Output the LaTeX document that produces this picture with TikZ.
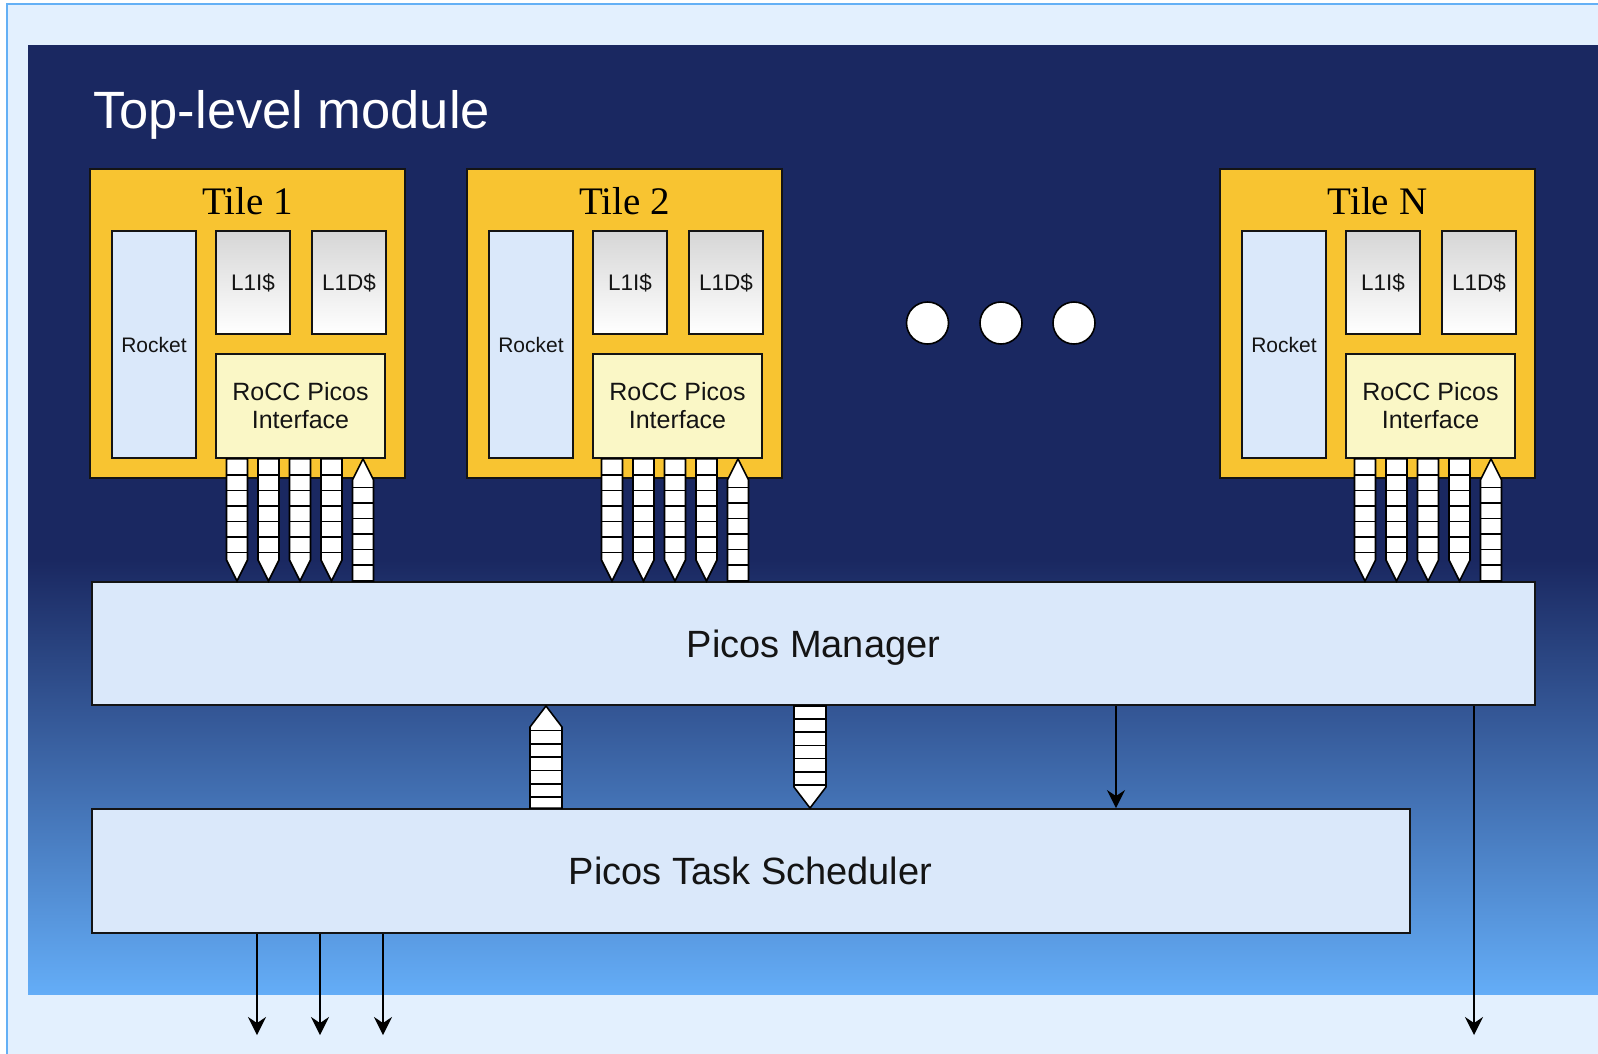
\documentclass[tikz,border=0pt]{standalone}
\usepackage{fontspec}
\setmainfont{Liberation Sans}
\newfontfamily\tilefont{Liberation Serif}
\usetikzlibrary{arrows.meta,calc}

\definecolor{pagebg}{HTML}{E3F0FE}
\definecolor{pageedge}{HTML}{64B0F5}
\definecolor{navy}{HTML}{1A2861}
\definecolor{skyend}{HTML}{64ADF7}
\definecolor{tilegold}{HTML}{F8C431}
\definecolor{paleblue}{HTML}{DAE8FA}
\definecolor{paleyellow}{HTML}{FAF7C6}
\definecolor{cachetop}{HTML}{D6D6D6}
\definecolor{ink}{HTML}{141414}

% striped bus arrow pointing down: x, top anchor, bottom anchor, half width,
% first stripe offset, stripe step, stripe count
\newcommand\busdown[7]{%
  \draw[buspath] let \p1=(#2), \p2=(#3), \p3=(#1,0) in
    (\x3-#4pt,\y1) -- (\x3+#4pt,\y1) -- (\x3+#4pt,\y2+21pt) -- (\x3,\y2)
    -- (\x3-#4pt,\y2+21pt) -- cycle;
  \foreach \k in {1,...,#7}{
    \draw[busline] let \p1=(#2), \p3=(#1,0) in
      (\x3-#4pt,\y1-#5pt-\k*#6pt+#6pt) -- (\x3+#4pt,\y1-#5pt-\k*#6pt+#6pt);
  }%
}
% striped bus arrow pointing up: x, bottom anchor, top anchor (tip), half width,
% first stripe offset, stripe step, stripe count
\newcommand\busup[7]{%
  \draw[buspath] let \p1=(#2), \p2=(#3), \p3=(#1,0) in
    (\x3-#4pt,\y1) -- (\x3+#4pt,\y1) -- (\x3+#4pt,\y2-21pt) -- (\x3,\y2)
    -- (\x3-#4pt,\y2-21pt) -- cycle;
  \foreach \k in {1,...,#7}{
    \draw[busline] let \p1=(#2), \p3=(#1,0) in
      (\x3-#4pt,\y1+#5pt+\k*#6pt-#6pt) -- (\x3+#4pt,\y1+#5pt+\k*#6pt-#6pt);
  }%
}

\tikzset{
  tilebox/.style={draw=ink, line width=2pt, fill=tilegold, inner sep=0pt,
    minimum width=315pt, minimum height=309pt},
  rocketbox/.style={draw=ink, line width=1.8pt, fill=paleblue, inner sep=0pt,
    minimum width=84pt, minimum height=227pt, text=ink,
    font=\fontsize{21}{24}\selectfont},
  cachebox/.style={draw=ink, line width=1.8pt, top color=cachetop, bottom color=white,
    inner sep=0pt, minimum width=74pt, minimum height=103pt, text=ink, text depth=0pt,
    font=\fontsize{22.5}{26}\selectfont},
  roccbox/.style={draw=ink, line width=1.8pt, fill=paleyellow, inner sep=0pt,
    minimum width=169pt, minimum height=104pt, align=center, text=ink,
    font=\fontsize{25}{28}\selectfont},
  bigbox/.style={draw=ink, line width=2pt, fill=paleblue, inner sep=0pt, text=ink,
    text depth=0pt, font=\fontsize{38}{44}\selectfont},
  dotnode/.style={circle, draw=black, line width=1.6pt, fill=white,
    minimum size=42pt, inner sep=0pt},
  buspath/.style={draw=black, fill=white, line width=1.6pt, line join=miter},
  busline/.style={draw=black, line width=1.6pt},
  thinarrow/.style={draw=black, line width=1.6pt,
    -{Stealth[length=18pt,width=18pt,inset=6pt]}},
}

\begin{document}
\begin{tikzpicture}[x=1pt,y=-1pt]
\useasboundingbox (0,0) rectangle (1598,1053);
\clip (0,0) rectangle (1598,1053);
\fill[white] (0,0) rectangle (1598,1053);

% page frame and module background
\filldraw[fill=pagebg, draw=pageedge, line width=2pt] (7,4) rectangle (1640,1090);
\fill[navy] (28,45) rectangle (1640,561);
\shade[top color=navy, bottom color=skyend] (28,560) rectangle (1640,994);

\node[anchor=base west, inner sep=0pt, text=white, font=\fontsize{52.5}{60}\selectfont]
  (title) at (93,128) {Top-level module};

% manager and scheduler
\node[bigbox, minimum width=1443pt, minimum height=123pt] (pm) at (813.4,643.5) {Picos Manager};
\node[bigbox, minimum width=1318pt, minimum height=123.5pt] (pts) at (750.6,870.8) {Picos Task Scheduler};

% tiles
\foreach \off/\tid/\lbl in {0/1/Tile 1, 377/2/Tile 2, 1130/N/Tile N} {
  \node[tilebox] (tile\tid) at (247.5+\off,323.5) {};
  \node[anchor=base, inner sep=0pt, text=black, font=\tilefont\fontsize{39}{44}\selectfont]
    (tt\tid) at (247.5+\off,214) {\lbl};
  \node[rocketbox] (rk\tid) at (154+\off,344.5) {Rocket};
  \node[cachebox] (li\tid) at (253+\off,282.5) {L1I\$};
  \node[cachebox] (ld\tid) at (349+\off,282.5) {L1D\$};
  \node[roccbox] (rc\tid) at (300.5+\off,406) {RoCC Picos\\Interface};
}

% tile buses to the manager
\foreach \off/\tid in {0/1, 375/2, 1128/N} {
  \foreach \bx in {237,268.5,300,331.5} {
    \busdown{\bx+\off}{rc\tid.south}{pm.north}{10.5}{16}{15.5}{6}
  }
  \busup{363+\off}{pm.north}{rc\tid.south}{10.5}{16}{15.5}{6}
}

% more tiles
\node[dotnode] (d1) at (927.5,323) {};
\node[dotnode] (d2) at (1001,323) {};
\node[dotnode] (d3) at (1074,323) {};

% manager <-> scheduler buses
\busup{546}{pts.north}{pm.south}{16}{11}{13.3}{6}
\busdown{810}{pm.south}{pts.north}{16}{13}{13.2}{6}

% single signals
\coordinate (xa) at (1116,0);
\draw[thinarrow] (pm.south -| xa) -- (pts.north -| xa);
\coordinate (o4) at (1474,1035);
\draw[thinarrow] (pm.south -| o4) -- (o4);
\coordinate (o1) at (257,1035);
\coordinate (o2) at (320,1035);
\coordinate (o3) at (383,1035);
\draw[thinarrow] (pts.south -| o1) -- (o1);
\draw[thinarrow] (pts.south -| o2) -- (o2);
\draw[thinarrow] (pts.south -| o3) -- (o3);
\end{tikzpicture}
\end{document}
